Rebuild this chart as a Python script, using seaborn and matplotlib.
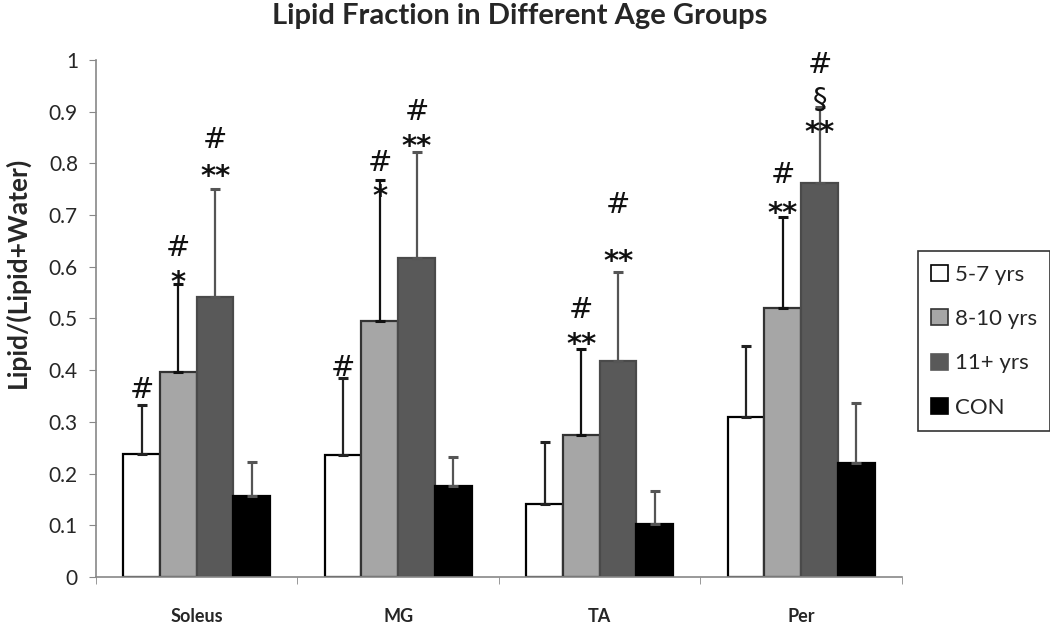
import numpy as np
import pandas as pd
import seaborn as sns
import matplotlib.pyplot as plt
from matplotlib.patches import Patch

# values
muscles = ["Soleus", "MG", "TA", "Per"]
groups = ["5-7 yrs", "8-10 yrs", "11+ yrs", "CON"]
means = {
    "5-7 yrs": [0.237, 0.236, 0.141, 0.310],
    "8-10 yrs": [0.397, 0.495, 0.275, 0.520],
    "11+ yrs": [0.541, 0.617, 0.418, 0.762],
    "CON": [0.156, 0.176, 0.103, 0.220],
}
upper_sd = {
    "5-7 yrs": [0.096, 0.149, 0.120, 0.137],
    "8-10 yrs": [0.170, 0.272, 0.166, 0.176],
    "11+ yrs": [0.209, 0.205, 0.172, 0.148],
    "CON": [0.066, 0.056, 0.063, 0.116],
}
# significance marks: (muscle, group, text, y)
marks = [
    ("Soleus", "5-7 yrs", "#", 0.362),
    ("Soleus", "8-10 yrs", "#", 0.636), ("Soleus", "8-10 yrs", "*", 0.588),
    ("Soleus", "11+ yrs", "#", 0.845), ("Soleus", "11+ yrs", "**", 0.793),
    ("MG", "5-7 yrs", "#", 0.404),
    ("MG", "8-10 yrs", "#", 0.800), ("MG", "8-10 yrs", "*", 0.754),
    ("MG", "11+ yrs", "#", 0.899), ("MG", "11+ yrs", "**", 0.851),
    ("TA", "8-10 yrs", "#", 0.516), ("TA", "8-10 yrs", "**", 0.468),
    ("TA", "11+ yrs", "#", 0.720), ("TA", "11+ yrs", "**", 0.629),
    ("Per", "8-10 yrs", "#", 0.778), ("Per", "8-10 yrs", "**", 0.723),
    ("Per", "11+ yrs", "#", 0.990), ("Per", "11+ yrs", "\u00a7", 0.923),
    ("Per", "11+ yrs", "**", 0.878),
]

fill_colors = ["#ffffff", "#a6a6a6", "#595959", "#000000"]
edge_colors = ["#000000", "#333333", "#4a4a4a", "#000000"]
err_colors = ["#222222", "#111111", "#555555", "#555555"]

rows = []
for g in groups:
    for i, m in enumerate(muscles):
        rows.append({"muscle": m, "group": g, "value": means[g][i]})
df = pd.DataFrame(rows)

sns.set_style("white")
plt.rcParams["font.family"] = ["Lato", "DejaVu Sans"]

fig = plt.figure(figsize=(10.5, 6.26), dpi=100)
ax = fig.add_axes([0.0914, 0.0783, 0.7676, 0.8259])

sns.barplot(data=df, x="muscle", y="value", hue="group", order=muscles,
            hue_order=groups, palette=fill_colors, width=0.73,
            errorbar=None, legend=False, ax=ax)

bar_pos = {}
bar_containers = list(ax.containers)
for gi, cont in enumerate(bar_containers):
    g = groups[gi]
    xs, hs = [], []
    for mi, bar in enumerate(cont):
        bar.set_edgecolor(edge_colors[gi])
        bar.set_linewidth(1.6)
        xc = bar.get_x() + bar.get_width() / 2
        xs.append(xc)
        hs.append(bar.get_height())
        bar_pos[(muscles[mi], g)] = xc
    ax.errorbar(xs, hs, yerr=[np.zeros(len(hs)), upper_sd[g]], fmt="none",
                ecolor=err_colors[gi], elinewidth=1.6, capsize=3.5,
                capthick=2.2, zorder=1)

for m, g, txt, y in marks:
    if "*" in txt:
        ax.text(bar_pos[(m, g)], y - 0.02, txt, ha="center", va="center",
                fontsize=21, fontweight="bold", color="#111111",
                family=["DejaVu Sans"])
    else:
        ax.text(bar_pos[(m, g)], y, txt, ha="center", va="center",
                fontsize=21, color="#111111", family=["DejaVu Sans"])

ax.set_ylim(0, 1)
ax.set_xlim(-0.5, 3.5)
ax.set_yticks(np.arange(0, 1.01, 0.1))
ax.set_yticklabels(["0"] + [f"{v:.1f}" for v in np.arange(0.1, 0.95, 0.1)] + ["1"])
ax.tick_params(axis="y", left=True, length=5, color="#888888", labelsize=15, pad=8)
ax.set_xticks(range(len(muscles)))
ax.set_xticklabels(muscles, fontweight="bold", fontsize=13)
ax.tick_params(axis="x", bottom=False, pad=19)
ax.set_xticks(np.arange(-0.5, 3.6, 1), minor=True)
ax.tick_params(axis="x", which="minor", bottom=True, length=5, color="#888888")
for side in ["top", "right"]:
    ax.spines[side].set_visible(False)
for side in ["left", "bottom"]:
    ax.spines[side].set_color("#888888")
    ax.spines[side].set_linewidth(1.2)

ax.set_xlabel("")
ax.set_ylabel("Lipid/(Lipid+Water)", fontweight="bold", fontsize=19)
ax.yaxis.set_label_coords(-0.082, 0.59)
fig.suptitle("Lipid Fraction in Different Age Groups", fontweight="bold",
             fontsize=21, x=0.495, y=0.995)

handles = [Patch(facecolor=fill_colors[i], edgecolor=edge_colors[i] if i < 2 else fill_colors[i],
                 linewidth=1.2, label=g) for i, g in enumerate(groups)]
leg = ax.legend(handles=handles, loc="upper left", bbox_to_anchor=(1.02, 0.63),
                borderaxespad=0, fontsize=16, frameon=True, fancybox=False,
                edgecolor="#000000", handlelength=0.75, handleheight=0.75,
                handletextpad=0.3, labelspacing=1.1, borderpad=0.6)
leg.get_frame().set_linewidth(1.2)

fig.savefig("out.png", dpi=100)
